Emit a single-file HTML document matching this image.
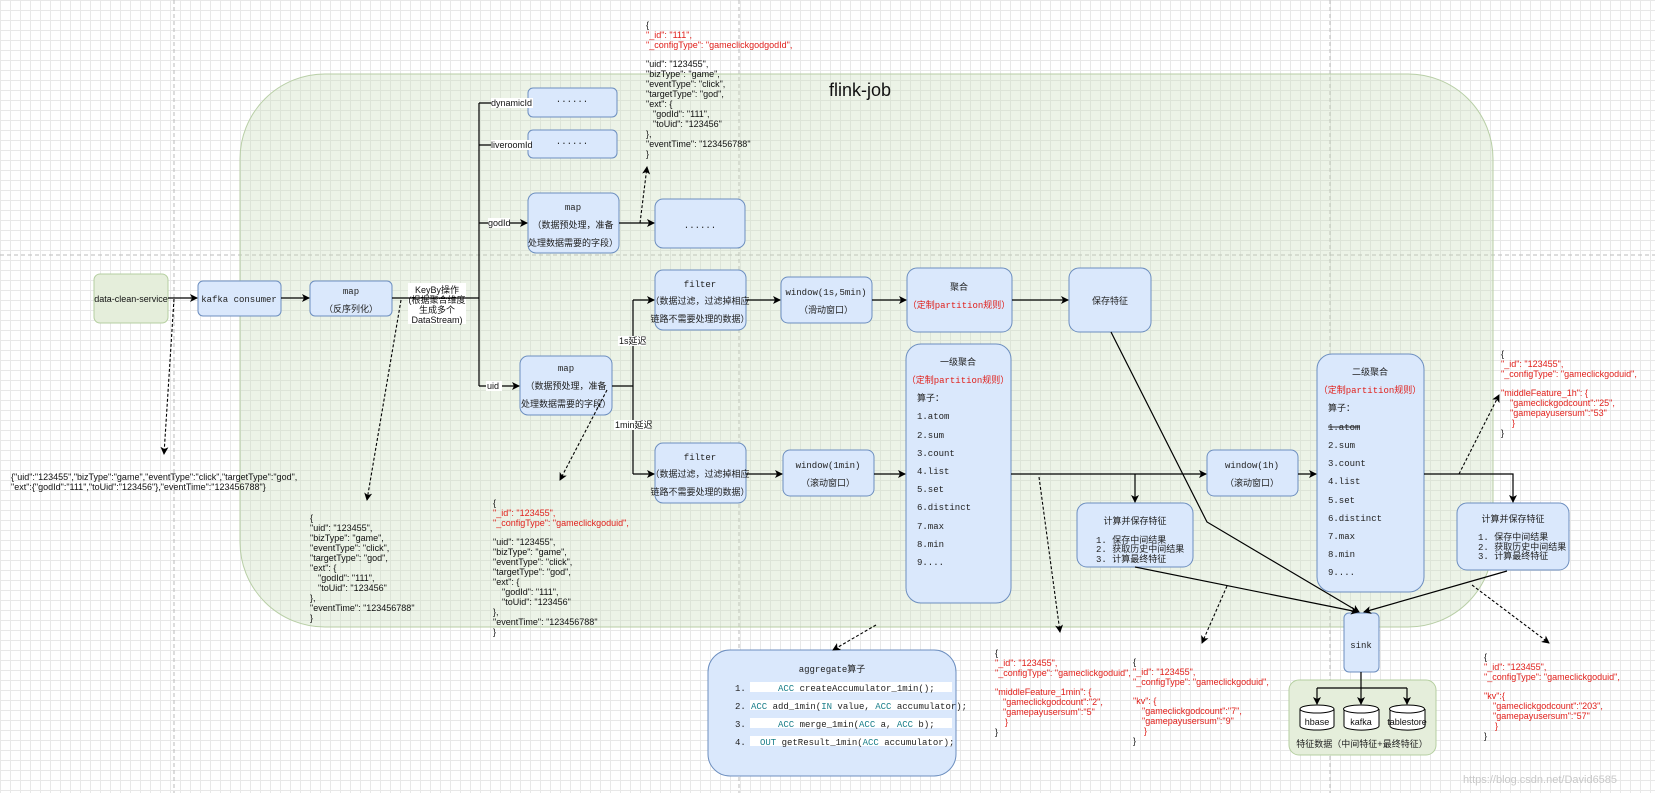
<!DOCTYPE html>
<html><head><meta charset="utf-8">
<style>
html,body{margin:0;padding:0;}
body{width:1655px;height:793px;overflow:hidden;background:#fff;
background-image:linear-gradient(#e8e8e8 1px,transparent 1px),linear-gradient(90deg,#e8e8e8 1px,transparent 1px);
background-size:10px 10px;}
svg{position:absolute;left:0;top:0;}
.m{font-family:"Liberation Mono","Noto Sans CJK SC",monospace;font-size:9px;fill:#222;}
.s{font-family:"Liberation Sans","Noto Sans CJK SC",sans-serif;font-size:9px;fill:#111;}
.r{fill:#e0201b;}
.b{fill:#dae8fc;stroke:#6c8ebf;stroke-width:1;}
</style></head><body>
<svg width="1655" height="793" viewBox="0 0 1655 793">
<defs>
<marker id="a" markerWidth="8" markerHeight="8" refX="7" refY="4" orient="auto" markerUnits="userSpaceOnUse"><path d="M0,0 L8,4 L0,8 L2,4z" fill="#000"/></marker>
</defs>
<g stroke="#bbb" stroke-dasharray="4,3" stroke-width="1">
<line x1="0" y1="255" x2="1655" y2="255"/>
<line x1="174" y1="0" x2="174" y2="793"/>
<line x1="739" y1="0" x2="739" y2="793"/>
<line x1="1330" y1="0" x2="1330" y2="793"/>
</g>
<rect x="240" y="74" width="1253" height="553" rx="85" fill="rgba(200,222,185,0.35)" stroke="#b8cea6"/>
<text x="860" y="96" font-family="Liberation Sans" font-size="18" fill="#111" text-anchor="middle">flink-job</text>

<rect x="94" y="274" width="74" height="49" rx="6" fill="#e5eedb" stroke="#b5cfa0"/>
<text class="s" x="131" y="302" text-anchor="middle" font-size="8.5">data-clean-service</text>
<rect class="b" x="198" y="281" width="83" height="35" rx="5"/>
<text class="m" x="239" y="302" text-anchor="middle">kafka consumer</text>
<rect class="b" x="310" y="281" width="82" height="35" rx="5"/>
<text class="m" x="351" y="294" text-anchor="middle">map</text>
<text class="m" x="351" y="312" text-anchor="middle">（反序列化）</text>
<rect x="408" y="283" width="58" height="41" fill="#fff"/>
<text class="s" x="437" y="293" text-anchor="middle" font-size="10">KeyBy操作</text>
<text class="s" x="437" y="303" text-anchor="middle" font-size="10">(根据聚合维度</text>
<text class="s" x="437" y="313" text-anchor="middle" font-size="10">生成多个</text>
<text class="s" x="437" y="323" text-anchor="middle" font-size="10">DataStream)</text>

<rect class="b" x="528" y="88" width="89" height="29" rx="5"/>
<text class="m" x="572" y="102" text-anchor="middle" font-size="7">......</text>
<rect class="b" x="528" y="130" width="89" height="28" rx="5"/>
<text class="m" x="572" y="144" text-anchor="middle" font-size="7">......</text>
<rect class="b" x="528" y="193" width="91" height="60" rx="8"/>
<text class="m" x="573" y="210" text-anchor="middle">map</text>
<text class="m" x="573" y="228" text-anchor="middle" font-size="8.5">（数据预处理，准备</text>
<text class="m" x="573" y="246" text-anchor="middle" font-size="8.5">处理数据需要的字段）</text>
<rect class="b" x="655" y="199" width="90" height="49" rx="8"/>
<text class="m" x="700" y="228" text-anchor="middle" font-size="7">......</text>

<rect class="b" x="655" y="270" width="91" height="60" rx="8"/>
<text class="m" x="700" y="287" text-anchor="middle">filter</text>
<text class="m" x="700" y="304" text-anchor="middle" font-size="8.2">（数据过滤，过滤掉相应</text>
<text class="m" x="700" y="322" text-anchor="middle" font-size="8.2">链路不需要处理的数据）</text>
<rect class="b" x="781" y="277" width="91" height="46" rx="7"/>
<text class="m" x="826" y="295" text-anchor="middle">window(1s,5min)</text>
<text class="m" x="826" y="313" text-anchor="middle">（滑动窗口）</text>
<rect class="b" x="907" y="268" width="105" height="64" rx="10"/>
<text class="m" x="959" y="290" text-anchor="middle">聚合</text>
<text class="m r" x="959" y="308" text-anchor="middle">（定制partition规则）</text>
<rect class="b" x="1069" y="268" width="82" height="64" rx="10"/>
<text class="m" x="1110" y="304" text-anchor="middle">保存特征</text>

<rect class="b" x="520" y="356" width="92" height="59" rx="8"/>
<text class="m" x="566" y="371" text-anchor="middle">map</text>
<text class="m" x="566" y="389" text-anchor="middle" font-size="8.5">（数据预处理，准备</text>
<text class="m" x="566" y="407" text-anchor="middle" font-size="8.5">处理数据需要的字段）</text>
<rect class="b" x="655" y="443" width="91" height="60" rx="8"/>
<text class="m" x="700" y="460" text-anchor="middle">filter</text>
<text class="m" x="700" y="477" text-anchor="middle" font-size="8.2">（数据过滤，过滤掉相应</text>
<text class="m" x="700" y="495" text-anchor="middle" font-size="8.2">链路不需要处理的数据）</text>
<rect class="b" x="783" y="450" width="91" height="46" rx="7"/>
<text class="m" x="828" y="468" text-anchor="middle">window(1min)</text>
<text class="m" x="828" y="486" text-anchor="middle">（滚动窗口）</text>

<rect class="b" x="906" y="344" width="105" height="259" rx="15"/>
<g class="m">
<text x="958" y="365" text-anchor="middle">一级聚合</text>
<text class="r" x="958" y="383" text-anchor="middle">（定制partition规则）</text>
<text x="917" y="401">算子：</text>
<text x="917" y="419">1.atom</text><text x="917" y="438">2.sum</text><text x="917" y="456">3.count</text>
<text x="917" y="474">4.list</text><text x="917" y="492">5.set</text><text x="917" y="510">6.distinct</text>
<text x="917" y="529">7.max</text><text x="917" y="547">8.min</text><text x="917" y="565">9....</text>
</g>
<rect class="b" x="1207" y="450" width="91" height="46" rx="7"/>
<text class="m" x="1252" y="468" text-anchor="middle">window(1h)</text>
<text class="m" x="1252" y="486" text-anchor="middle">（滚动窗口）</text>
<rect class="b" x="1077" y="503" width="116" height="64" rx="10"/>
<g class="m" font-size="8.5">
<text x="1135" y="524" text-anchor="middle" font-size="9">计算并保存特征</text>
<text x="1096" y="543">1.  保存中间结果</text>
<text x="1096" y="552">2.  获取历史中间结果</text>
<text x="1096" y="562">3.  计算最终特征</text>
</g>
<rect class="b" x="1317" y="354" width="107" height="238" rx="15"/>
<g class="m">
<text x="1370" y="375" text-anchor="middle">二级聚合</text>
<text class="r" x="1370" y="393" text-anchor="middle">（定制partition规则）</text>
<text x="1328" y="411">算子：</text>
<text x="1328" y="430">1.atom</text><text x="1328" y="448">2.sum</text><text x="1328" y="466">3.count</text>
<text x="1328" y="484">4.list</text><text x="1328" y="503">5.set</text><text x="1328" y="521">6.distinct</text>
<text x="1328" y="539">7.max</text><text x="1328" y="557">8.min</text><text x="1328" y="575">9....</text>
</g>
<line x1="1328" y1="427" x2="1360" y2="427" stroke="#222"/>
<rect class="b" x="1457" y="503" width="112" height="67" rx="10"/>
<g class="m" font-size="8.5">
<text x="1513" y="522" text-anchor="middle" font-size="9">计算并保存特征</text>
<text x="1478" y="540">1.  保存中间结果</text>
<text x="1478" y="550">2.  获取历史中间结果</text>
<text x="1478" y="559">3.  计算最终特征</text>
</g>
<rect class="b" x="1344" y="613" width="35" height="59" rx="5"/>
<text class="m" x="1361" y="648" text-anchor="middle">sink</text>
<rect x="1289" y="680" width="147" height="75" rx="10" fill="#e5eedb" stroke="#b5cfa0"/>
<text class="m" x="1362" y="747" text-anchor="middle" font-size="8.5">特征数据（中间特征+最终特征）</text>
<g fill="#fff" stroke="#000">
<path d="M1300,709 v17 a17,4 0 0 0 34,0 v-17"/><ellipse cx="1317" cy="709" rx="17" ry="4"/>
<path d="M1344,709 v17 a17,4 0 0 0 35,0 v-17"/><ellipse cx="1361" cy="709" rx="17.5" ry="4"/>
<path d="M1390,709 v17 a17,4 0 0 0 35,0 v-17"/><ellipse cx="1407" cy="709" rx="17.5" ry="4"/>
</g>
<g class="s" text-anchor="middle"><text x="1317" y="725">hbase</text><text x="1361" y="725">kafka</text><text x="1407" y="725">tablestore</text></g>

<rect class="b" x="708" y="650" width="248" height="126" rx="22"/>
<text class="m" x="832" y="672" text-anchor="middle">aggregate算子</text>
<g fill="#fff"><rect x="750" y="682" width="202" height="10"/><rect x="750" y="700" width="202" height="10"/><rect x="750" y="718" width="202" height="10"/><rect x="750" y="736" width="202" height="10"/></g>
<g class="m" font-size="8.2">
<text x="735" y="691">1.</text><text x="735" y="709">2.</text><text x="735" y="727">3.</text><text x="735" y="745">4.</text>
<text x="778" y="691"><tspan fill="#1b7f8a">ACC</tspan> createAccumulator_1min();</text>
<text x="751" y="709"><tspan fill="#1b7f8a">ACC</tspan> add_1min(<tspan fill="#1b7f8a">IN</tspan> value, <tspan fill="#1b7f8a">ACC</tspan> accumulator);</text>
<text x="778" y="727"><tspan fill="#1b7f8a">ACC</tspan> merge_1min(<tspan fill="#1b7f8a">ACC</tspan> a, <tspan fill="#1b7f8a">ACC</tspan> b);</text>
<text x="760" y="745"><tspan fill="#1b7f8a">OUT</tspan> getResult_1min(<tspan fill="#1b7f8a">ACC</tspan> accumulator);</text>
</g>

<g stroke="#000" stroke-width="1.2" fill="none">
<line x1="168" y1="298" x2="197" y2="298" marker-end="url(#a)"/>
<line x1="281" y1="298" x2="309" y2="298" marker-end="url(#a)"/>
<line x1="392" y1="298" x2="479" y2="298"/>
<line x1="479" y1="103" x2="479" y2="386"/>
<line x1="479" y1="103" x2="527" y2="103" marker-end="url(#a)"/>
<line x1="479" y1="145" x2="527" y2="145" marker-end="url(#a)"/>
<line x1="479" y1="223" x2="527" y2="223" marker-end="url(#a)"/>
<line x1="479" y1="386" x2="519" y2="386" marker-end="url(#a)"/>
<line x1="619" y1="223" x2="654" y2="223" marker-end="url(#a)"/>
<line x1="612" y1="386" x2="633" y2="386"/>
<line x1="633" y1="300" x2="633" y2="474"/>
<line x1="633" y1="300" x2="654" y2="300" marker-end="url(#a)"/>
<line x1="633" y1="474" x2="654" y2="474" marker-end="url(#a)"/>
<line x1="746" y1="300" x2="780" y2="300" marker-end="url(#a)"/>
<line x1="872" y1="300" x2="906" y2="300" marker-end="url(#a)"/>
<line x1="1012" y1="300" x2="1068" y2="300" marker-end="url(#a)"/>
<line x1="746" y1="474" x2="782" y2="474" marker-end="url(#a)"/>
<line x1="874" y1="474" x2="905" y2="474" marker-end="url(#a)"/>
<line x1="1011" y1="474" x2="1206" y2="474" marker-end="url(#a)"/>
<line x1="1135" y1="474" x2="1135" y2="502" marker-end="url(#a)"/>
<line x1="1298" y1="474" x2="1316" y2="474" marker-end="url(#a)"/>
<polyline points="1424,474 1513,474 1513,502" marker-end="url(#a)"/>
<polyline points="1111,332 1207,522 1359,612" marker-end="url(#a)"/>
<line x1="1135" y1="567" x2="1358" y2="612" marker-end="url(#a)"/>
<line x1="1507" y1="571" x2="1364" y2="612" marker-end="url(#a)"/>
<line x1="1361" y1="672" x2="1361" y2="704" marker-end="url(#a)"/>
<polyline points="1317,688 1407,688"/>
<line x1="1317" y1="688" x2="1317" y2="704" marker-end="url(#a)"/>
<line x1="1407" y1="688" x2="1407" y2="704" marker-end="url(#a)"/>
</g>
<g class="s" font-size="9">
<rect x="491" y="98" width="42" height="10" fill="#fff"/><text x="491" y="106">dynamicId</text>
<rect x="491" y="140" width="40" height="10" fill="#fff"/><text x="491" y="148">liveroomId</text>
<rect x="488" y="218" width="22" height="10" fill="#fff"/><text x="488" y="226">godId</text>
<rect x="486" y="381" width="16" height="10" fill="#fff"/><text x="487" y="389">uid</text>
<rect x="618" y="336" width="28" height="10" fill="#fff"/><text x="619" y="344">1s延迟</text>
<rect x="614" y="420" width="36" height="10" fill="#fff"/><text x="615" y="428">1min延迟</text>
</g>

<g stroke="#000" stroke-width="1.1" fill="none" stroke-dasharray="3,2">
<line x1="174" y1="299" x2="164" y2="454" marker-end="url(#a)"/>
<line x1="401" y1="300" x2="367" y2="500" marker-end="url(#a)"/>
<line x1="607" y1="390" x2="560" y2="480" marker-end="url(#a)"/>
<line x1="640" y1="223" x2="647" y2="167" marker-end="url(#a)"/>
<line x1="876" y1="625" x2="833" y2="650" marker-end="url(#a)"/>
<line x1="1039" y1="477" x2="1060" y2="632" marker-end="url(#a)"/>
<line x1="1227" y1="586" x2="1202" y2="643" marker-end="url(#a)"/>
<line x1="1459" y1="474" x2="1499" y2="395" marker-end="url(#a)"/>
<line x1="1472" y1="585" x2="1549" y2="643" marker-end="url(#a)"/>
</g>

<g class="s">
<text x="11" y="480">{"uid":"123455","bizType":"game","eventType":"click","targetType":"god",</text>
<text x="11" y="490">"ext":{"godId":"111","toUid":"123456"},"eventTime":"123456788"}</text>

<text x="646" y="28">{</text>
<text class="r" x="646" y="38">"_id": "111",</text>
<text class="r" x="646" y="48">"_configType": "gameclickgodgodId",</text>
<text x="646" y="67">"uid": "123455",</text><text x="646" y="77">"bizType": "game",</text>
<text x="646" y="87">"eventType": "click",</text><text x="646" y="97">"targetType": "god",</text>
<text x="646" y="107">"ext": {</text><text x="653" y="117">"godId": "111",</text><text x="653" y="127">"toUid": "123456"</text>
<text x="646" y="137">},</text><text x="646" y="147">"eventTime": "123456788"</text><text x="646" y="157">}</text>

<text x="310" y="521">{</text>
<text x="310" y="531">"uid": "123455",</text><text x="310" y="541">"bizType": "game",</text>
<text x="310" y="551">"eventType": "click",</text><text x="310" y="561">"targetType": "god",</text>
<text x="310" y="571">"ext": {</text><text x="318" y="581">"godId": "111",</text><text x="318" y="591">"toUid": "123456"</text>
<text x="310" y="601">},</text><text x="310" y="611">"eventTime": "123456788"</text><text x="310" y="621">}</text>

<text x="493" y="506">{</text>
<text class="r" x="493" y="516">"_id": "123455",</text>
<text class="r" x="493" y="526">"_configType": "gameclickgoduid",</text>
<text x="493" y="545">"uid": "123455",</text><text x="493" y="555">"bizType": "game",</text>
<text x="493" y="565">"eventType": "click",</text><text x="493" y="575">"targetType": "god",</text>
<text x="493" y="585">"ext": {</text><text x="502" y="595">"godId": "111",</text><text x="502" y="605">"toUid": "123456"</text>
<text x="493" y="615">},</text><text x="493" y="625">"eventTime": "123456788"</text><text x="493" y="635">}</text>

<text x="995" y="656">{</text>
<text class="r" x="995" y="666">"_id": "123455",</text>
<text class="r" x="995" y="676">"_configType": "gameclickgoduid",</text>
<text class="r" x="995" y="695">"middleFeature_1min": {</text>
<text class="r" x="1003" y="705">"gameclickgodcount":"2",</text>
<text class="r" x="1003" y="715">"gamepayusersum":"5"</text>
<text class="r" x="1005" y="725">}</text>
<text x="995" y="735">}</text>

<text x="1133" y="665">{</text>
<text class="r" x="1133" y="675">"_id": "123455",</text>
<text class="r" x="1133" y="685">"_configType": "gameclickgoduid",</text>
<text class="r" x="1133" y="704">"kv": {</text>
<text class="r" x="1142" y="714">"gameclickgodcount":"7",</text>
<text class="r" x="1142" y="724">"gamepayusersum":"9"</text>
<text class="r" x="1144" y="734">}</text>
<text x="1133" y="744">}</text>

<text x="1501" y="357">{</text>
<text class="r" x="1501" y="367">"_id": "123455",</text>
<text class="r" x="1501" y="377">"_configType": "gameclickgoduid",</text>
<text class="r" x="1501" y="396">"middleFeature_1h": {</text>
<text class="r" x="1510" y="406">"gameclickgodcount":"25",</text>
<text class="r" x="1510" y="416">"gamepayusersum":"53"</text>
<text class="r" x="1512" y="426">}</text>
<text x="1501" y="436">}</text>

<text x="1484" y="660">{</text>
<text class="r" x="1484" y="670">"_id": "123455",</text>
<text class="r" x="1484" y="680">"_configType": "gameclickgoduid",</text>
<text class="r" x="1484" y="699">"kv":{</text>
<text class="r" x="1493" y="709">"gameclickgodcount":"203",</text>
<text class="r" x="1493" y="719">"gamepayusersum":"57"</text>
<text class="r" x="1495" y="729">}</text>
<text x="1484" y="739">}</text>
</g>
<text x="1540" y="783" font-family="Liberation Sans" font-size="11" fill="#c8c8c8" text-anchor="middle">https://blog.csdn.net/David6585</text>
</svg>
</body></html>
